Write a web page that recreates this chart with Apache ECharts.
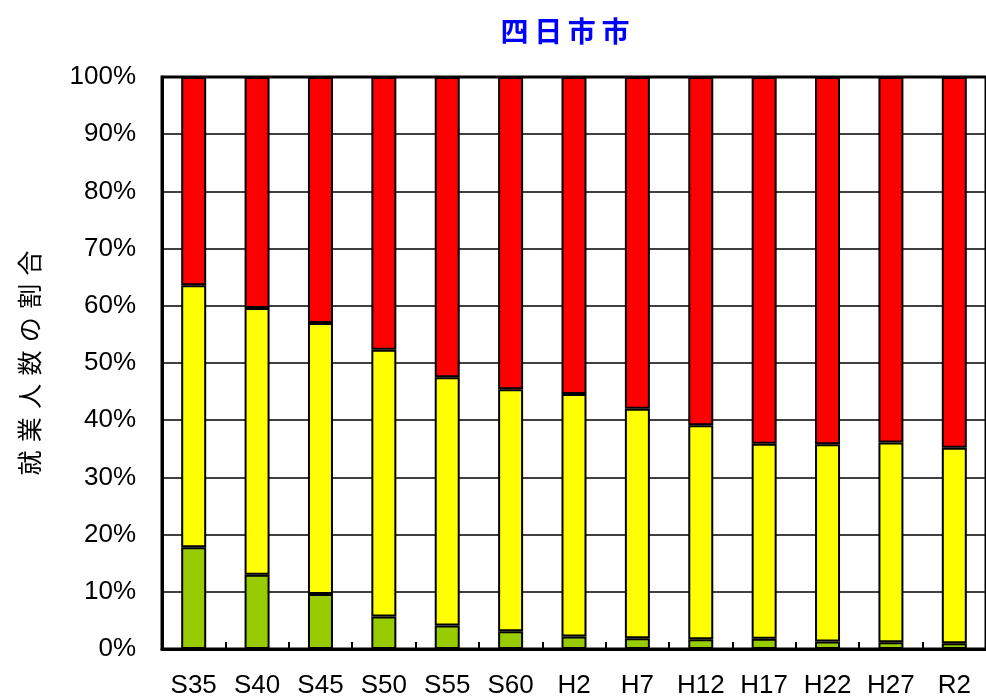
<!DOCTYPE html>
<html>
<head>
<meta charset="utf-8">
<script src="https://cdn.jsdelivr.net/npm/echarts@6/dist/echarts.min.js"></script>
<style>
  html, body { margin: 0; padding: 0; background: #fff; }
  #chart { width: 986px; height: 699px; }
</style>
</head>
<body>
<div id="chart"></div>
<script>
// Census years (Showa / Heisei / Reiwa)
const categories = ['S35', 'S40', 'S45', 'S50', 'S55', 'S60', 'H2', 'H7', 'H12', 'H17', 'H22', 'H27', 'R2'];

// Share of employed persons by industry sector (%)
const primary   = [17.8, 13.0, 9.6, 5.7, 4.1, 3.1, 2.2, 1.9, 1.7, 1.8, 1.3, 1.2, 1.0];
const secondary = [45.8, 46.6, 47.4, 46.6, 43.4, 42.3, 42.4, 40.1, 37.4, 34.1, 34.5, 34.9, 34.2];
const tertiary  = [36.4, 40.4, 43.0, 47.7, 52.5, 54.6, 55.4, 58.0, 60.9, 64.1, 64.2, 63.9, 64.8];

// Value axis ticks
const yMin = 0, yMax = 100, yStep = 10;

const chart = echarts.init(document.getElementById('chart'), null, { renderer: 'canvas' });

const sp = '\u2004';
const barStyle = (color) => ({ color: color, borderColor: '#000', borderWidth: 2 });

chart.setOption({
  animation: false,
  backgroundColor: '#fff',
  textStyle: { fontFamily: '"Liberation Sans", Arial, sans-serif' },
  title: {
    text: ['四', '日', '市', '市'].join('\u2009'),
    left: 560,
    textAlign: 'center',
    top: 12,
    textStyle: {
      color: '#0000FF',
      fontSize: 28,
      fontWeight: 'bold',
      fontFamily: '"Noto Sans CJK JP", sans-serif'
    }
  },
  grid: {
    left: 162,
    top: 77,
    width: 826,
    bottom: 50,
    show: true,
    borderColor: '#000',
    borderWidth: 3,
    containLabel: false
  },
  xAxis: {
    type: 'category',
    data: categories,
    boundaryGap: true,
    axisLine: { show: true, lineStyle: { color: '#000', width: 3 } },
    axisTick: { show: true, inside: true, length: 7, lineStyle: { color: '#000', width: 2 } },
    axisLabel: {
      color: '#000',
      fontSize: 26,
      margin: 24,
      interval: 0,
      fontFamily: '"Liberation Sans", Arial, sans-serif'
    },
    splitLine: { show: false }
  },
  yAxis: {
    type: 'value',
    min: yMin,
    max: yMax,
    interval: yStep,
    name: ['就', '業', '人', '数', 'の', '割', '合'].join(sp),
    nameLocation: 'middle',
    nameRotate: 90,
    nameGap: 120,
    nameTextStyle: {
      color: '#000',
      fontSize: 25,
      fontFamily: '"Noto Sans CJK JP", sans-serif'
    },
    axisLine: { show: true, lineStyle: { color: '#000', width: 3 } },
    axisTick: { show: false },
    axisLabel: {
      color: '#000',
      fontSize: 26,
      margin: 26,
      formatter: '{value}%',
      fontFamily: '"Liberation Sans", Arial, sans-serif'
    },
    splitLine: { show: true, lineStyle: { color: '#000', width: 1.5 } }
  },
  series: [
    { name: '第1次産業', type: 'bar', stack: 'total', barWidth: 25, data: primary, itemStyle: barStyle('#99CC00') },
    { name: '第2次産業', type: 'bar', stack: 'total', barWidth: 25, data: secondary, itemStyle: barStyle('#FFFF00') },
    { name: '第3次産業', type: 'bar', stack: 'total', barWidth: 25, data: tertiary, itemStyle: barStyle('#FF0000') }
  ]
});
</script>
</body>
</html>
